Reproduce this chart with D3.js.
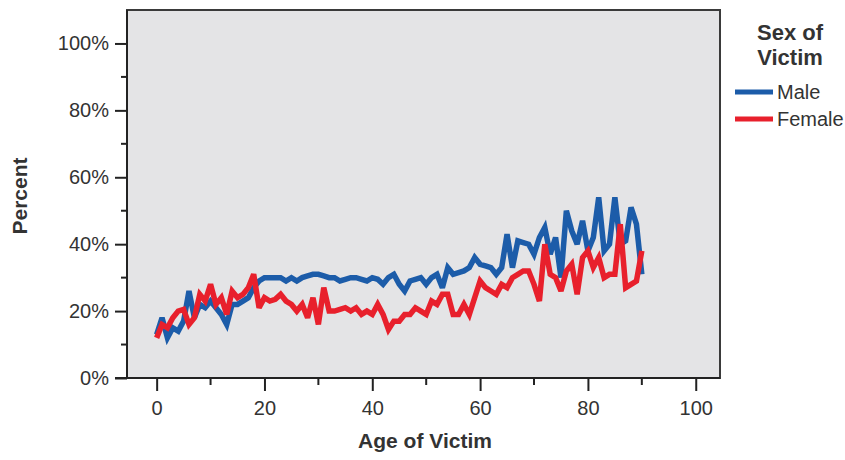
<!DOCTYPE html>
<html><head><meta charset="utf-8">
<script src="https://cdn.jsdelivr.net/npm/d3@7/dist/d3.min.js"></script>
<style>body{margin:0;background:#fff;}svg{display:block;font-family:"Liberation Sans",Arial,sans-serif;}</style>
</head><body>
<svg id="chart" width="845" height="460"></svg>
<script>
const ages = d3.range(0, 91);
const male = [13,18,12,15,14,17,26,18,22,21,23,21,19,16,22,22,23,24,27,29,
  30,30,30,30,29,30,29,30,30.5,31,31,30.5,30,30,29,29.5,30,30,29.5,29,
  30,29.5,28,30,31,28,26,29,29.5,30,28,30,31,27,33,31,31.5,32,33,36,
  34,33.5,33,31,33,43,33,41,40.5,40,37,42,45,37,42,30,50,44,40,47,
  38,42,54,38,40,54,40,41,51,46,31];
const female = [12,16,15,18,20,20.5,16,18,25,23,28,22,24,19,26,24,25,27,31,21,
  24,23,23.5,25,23,22,20,22,18,24,16,27,20,20,20.5,21,20,21,19,20,
  19,22,19,14.5,17,17,19,19,21,20,19,23,22,25,25,19,19,22,19,24,
  29,27,26,25,28,27,30,31,32,32,28,23,40,31,30,26,32,34,25,36,
  38,33,36,30,31,31,46,27,28,29,38];
const seriesNames = ["Male", "Female"];
const colors = ["#1c5ca9", "#e8202c"];
const xTicks = [0, 20, 40, 60, 80, 100];
const yTicks = [0, 20, 40, 60, 80, 100];

const svg = d3.select("#chart");
const L = 127, R = 720, T = 10, B = 378;
const x = d3.scaleLinear().domain([-5.5, 104.5]).range([L, R]);
const y = d3.scaleLinear().domain([0, 110]).range([B, T]);

svg.append("rect").attr("x", L).attr("y", T).attr("width", R - L).attr("height", B - T)
  .attr("fill", "#e4e4e6").attr("stroke", "#3a3a3a").attr("stroke-width", 2);

const data = [male, female];
const line = d3.line().x((d, i) => x(ages[i])).y(d => y(d));
data.forEach((s, k) => {
  svg.append("path").datum(s).attr("d", line).attr("fill", "none")
    .attr("stroke", colors[k]).attr("stroke-width", 5.5).attr("stroke-linejoin", "miter")
    .attr("stroke-miterlimit", 3);
});

// Y axis
const yAxis = svg.append("g").attr("transform", `translate(${L},0)`)
  .call(d3.axisLeft(y).tickValues(yTicks).tickFormat(d => d + "%").tickSize(12).tickPadding(6));
yAxis.select(".domain").remove();
yAxis.selectAll("line.minor").data([10,30,50,70,90]).enter()
  .append("line").attr("x1", -6).attr("x2", 0).attr("y1", d => y(d)).attr("y2", d => y(d))
  .attr("stroke", "#222").attr("stroke-width", 2);
yAxis.append("line").attr("x1", 0).attr("x2", 0).attr("y1", T).attr("y2", B).attr("stroke", "#222").attr("stroke-width", 2);

// X axis
const xAxis = svg.append("g").attr("transform", `translate(0,${B})`)
  .call(d3.axisBottom(x).tickValues(xTicks).tickSize(13).tickPadding(10));
xAxis.select(".domain").remove();
xAxis.append("line").attr("x1", L - 12).attr("x2", R).attr("y1", 0).attr("y2", 0).attr("stroke", "#222").attr("stroke-width", 2);
xAxis.selectAll("line.minor").data([10,30,50,70,90]).enter()
  .append("line").attr("x1", d => x(d)).attr("x2", d => x(d)).attr("y1", 0).attr("y2", 7)
  .attr("stroke", "#222").attr("stroke-width", 2);

[yAxis, xAxis].forEach(a => {
  a.selectAll(".tick line").attr("stroke", "#222").attr("stroke-width", 2);
  a.selectAll(".tick text").attr("font-size", 20).attr("fill", "#333")
    .attr("font-family", '"Liberation Sans", Arial, sans-serif');
});

svg.append("text").attr("x", 425).attr("y", 448).attr("text-anchor", "middle")
  .attr("font-size", 21).attr("font-weight", "bold").attr("fill", "#333").text("Age of Victim");
svg.append("text").attr("transform", "translate(27,196) rotate(-90)").attr("text-anchor", "middle")
  .attr("font-size", 21).attr("font-weight", "bold").attr("fill", "#333").text("Percent");

// Legend
const lg = svg.append("g");
lg.append("text").attr("x", 790).attr("y", 40).attr("text-anchor", "middle")
  .attr("font-size", 22).attr("font-weight", "bold").attr("fill", "#333").text("Sex of");
lg.append("text").attr("x", 790).attr("y", 65).attr("text-anchor", "middle")
  .attr("font-size", 22).attr("font-weight", "bold").attr("fill", "#333").text("Victim");
seriesNames.forEach((n, k) => {
  const yy = 92 + k * 27;
  lg.append("line").attr("x1", 735).attr("x2", 773).attr("y1", yy).attr("y2", yy)
    .attr("stroke", colors[k]).attr("stroke-width", 5);
  lg.append("text").attr("x", 777).attr("y", yy + 7).attr("font-size", 20).attr("fill", "#333").text(n);
});
</script>
</body></html>
